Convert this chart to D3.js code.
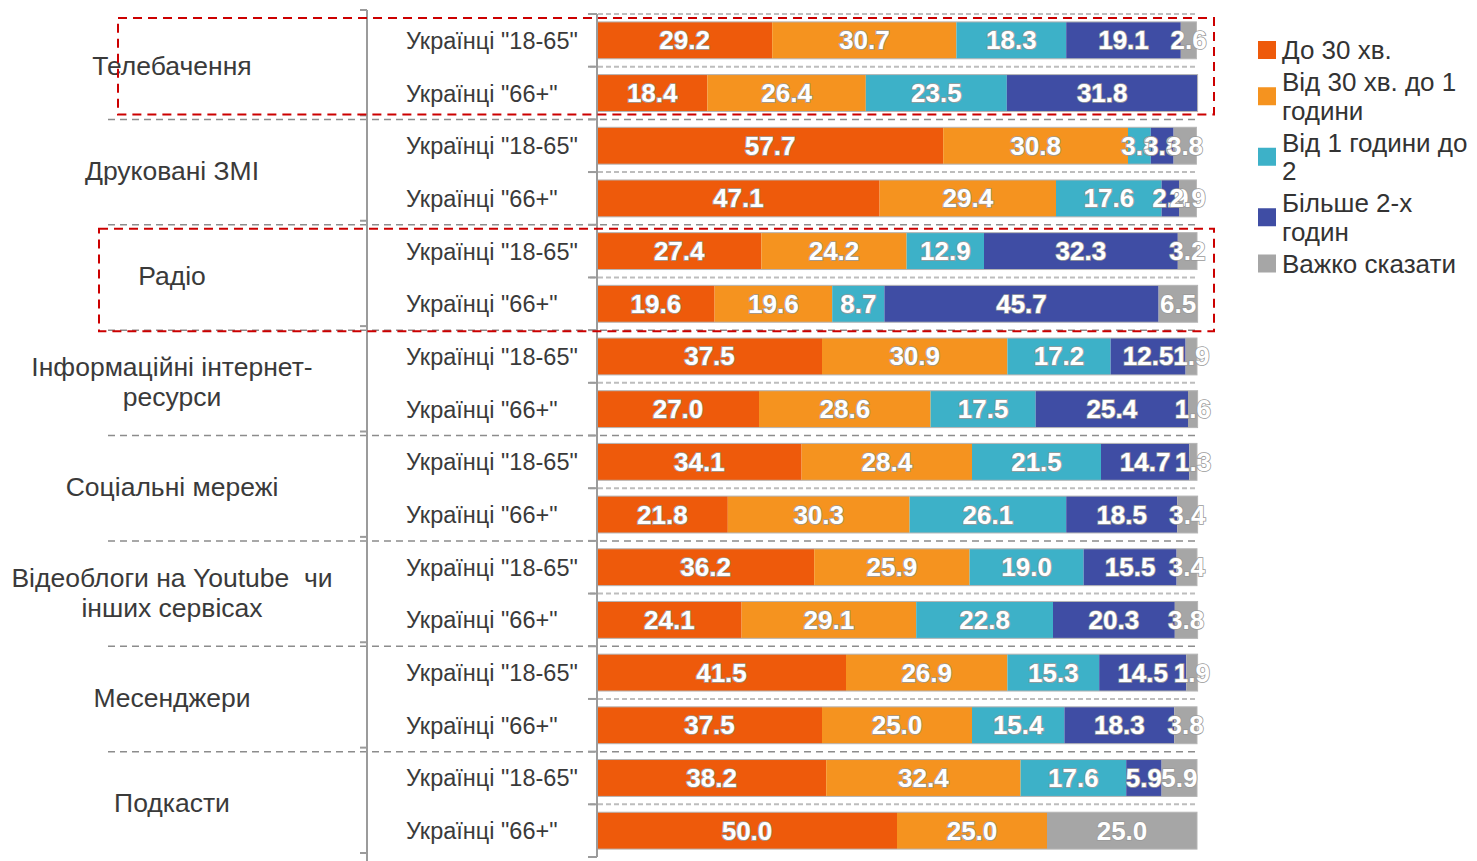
<!DOCTYPE html>
<html><head><meta charset="utf-8">
<script src="https://cdn.jsdelivr.net/npm/d3@7"></script>
<style>
html,body{margin:0;padding:0;background:#fff;}
svg{display:block;}
</style>
</head><body>
<svg id="chart" width="1477" height="861"></svg>
<script>
const categories = ["Телебачення", "Друковані ЗМІ", "Радіо", "Інформаційні інтернет-\nресурси", "Соціальні мережі", "Відеоблоги на Youtube\u00a0\u00a0чи\nінших сервісах", "Месенджери", "Подкасти"];
const groups = ["Українці \"18-65\"", "Українці \"66+\""];
const seriesNames = ["До 30 хв.", "Від 30 хв. до 1\nгодини", "Від 1 години до\n2", "Більше 2-х\nгодин", "Важко сказати"];
const seriesColors = ["#EE5A0B", "#F5931F", "#3DB1C8", "#3F4DA4", "#A6A6A6"];

const upTo30 = [29.2, 18.4, 57.7, 47.1, 27.4, 19.6, 37.5, 27.0, 34.1, 21.8, 36.2, 24.1, 41.5, 37.5, 38.2, 50.0];
const from30to60 = [30.7, 26.4, 30.8, 29.4, 24.2, 19.6, 30.9, 28.6, 28.4, 30.3, 25.9, 29.1, 26.9, 25.0, 32.4, 25.0];
const from1to2h = [18.3, 23.5, 3.8, 17.6, 12.9, 8.7, 17.2, 17.5, 21.5, 26.1, 19.0, 22.8, 15.3, 15.4, 17.6, 0];
const over2h = [19.1, 31.8, 3.8, 2.9, 32.3, 45.7, 12.5, 25.4, 14.7, 18.5, 15.5, 20.3, 14.5, 18.3, 5.9, 0];
const hardToSay = [2.6, 0, 3.8, 2.9, 3.2, 6.5, 1.9, 1.6, 1.3, 3.4, 3.4, 3.8, 1.9, 3.8, 5.9, 25.0];
const highlighted = [0, 2]; // category indices framed by red dashed boxes

const series = [upTo30, from30to60, from1to2h, over2h, hardToSay];
const keys = ["s0","s1","s2","s3","s4"];
const rows = [];
categories.forEach((c, ci) => groups.forEach((g, gi) => {
  const i = ci * 2 + gi;
  const r = {id: i, cat: ci, group: g};
  keys.forEach((k, si) => r[k] = series[si][i]);
  rows.push(r);
}));

const svg = d3.select("#chart");
const x = d3.scaleLinear().domain([0, 100]).range([597, 1197]);
const y = d3.scaleBand().domain(rows.map(r => r.id)).range([14, 857]).paddingInner(0.3).paddingOuter(0.15);
const step = y.step();
const top0 = 14;

const stack = d3.stack().keys(keys)(rows);

// row separators
const gridG = svg.append("g");
d3.range(1, rows.length).forEach(k => {
  if (k % 2 === 1) {
    gridG.append("line").attr("x1", 590).attr("x2", 1197)
      .attr("y1", top0 + k * step).attr("y2", top0 + k * step)
      .attr("stroke", "#bdbdbd").attr("stroke-width", 2).attr("stroke-dasharray", "5,3");
  }
});
gridG.append("line").attr("x1", 590).attr("x2", 1197).attr("y1", top0).attr("y2", top0)
  .attr("stroke", "#bdbdbd").attr("stroke-width", 2).attr("stroke-dasharray", "5,3");
// group separators
d3.range(1, categories.length).forEach(k => {
  const yy = top0 + 2 * k * step;
  gridG.append("line").attr("x1", 108).attr("x2", 1197).attr("y1", yy).attr("y2", yy)
    .attr("stroke", "#8c8c8c").attr("stroke-width", 1.5).attr("stroke-dasharray", "7,5");
});

// bars
const barG = svg.append("g");
stack.forEach((layer, si) => {
  barG.append("g").attr("fill", seriesColors[si])
    .selectAll("rect").data(layer.filter(d => d[1] - d[0] > 0)).join("rect")
    .attr("x", d => x(d[0])).attr("width", d => x(d[1]) - x(d[0]))
    .attr("y", d => y(d.data.id)).attr("height", y.bandwidth());
});
barG.selectAll("rect.outline").data(rows).join("rect").attr("class", "outline")
  .attr("x", x(0)).attr("width", d => x(d3.sum(keys, k => d[k])) - x(0))
  .attr("y", d => y(d.id)).attr("height", y.bandwidth())
  .attr("fill", "none").attr("stroke", "#b5b5b5").attr("stroke-width", 1);

// value labels
const labG = svg.append("g")
  .attr("font-family", "'Liberation Sans Narrow','Arial Narrow','Liberation Sans',Arial,sans-serif")
  .attr("font-weight", "bold").attr("font-size", 26).attr("text-anchor", "middle");
stack.forEach((layer, si) => {
  labG.selectAll(null).data(layer.filter(d => d[1] - d[0] > 0)).join("text")
    .attr("x", d => x((d[0] + d[1]) / 2))
    .attr("y", d => y(d.data.id) + y.bandwidth() / 2 + 9)
    .attr("fill", "#fff").attr("stroke", "#9a9a9a").attr("stroke-width", 1.6)
    .attr("paint-order", "stroke")
    .text(d => d3.format(".1f")(d[1] - d[0]));
});

// y axis (rows)
const axisG = svg.append("g").attr("transform", `translate(${x(0)},0)`);
axisG.append("line").attr("x1", 0).attr("x2", 0).attr("y1", top0).attr("y2", 857)
  .attr("stroke", "#9b9b9b").attr("stroke-width", 2);
d3.range(0, rows.length + 1).forEach(k => {
  axisG.append("line").attr("x1", -9).attr("x2", 0).attr("y1", top0 + k * step).attr("y2", top0 + k * step)
    .attr("stroke", "#9b9b9b").attr("stroke-width", 2);
});
const yAxis = d3.axisLeft(y).tickSize(0).tickPadding(0).tickFormat(i => rows[i].group);
axisG.call(yAxis);
axisG.select(".domain").remove();
axisG.selectAll(".tick text").attr("font-family", "'Liberation Sans',Arial,sans-serif")
  .attr("font-size", 23.5).attr("fill", "#3a3a3a")
  .attr("text-anchor", "start").attr("x", 406 - x(0)).attr("dy", "0.36em");

// outer category axis
const catG = svg.append("g");
catG.append("line").attr("x1", 367).attr("x2", 367).attr("y1", 10).attr("y2", 861)
  .attr("stroke", "#9b9b9b").attr("stroke-width", 2);
d3.range(0, categories.length + 1).forEach(k => {
  const yy = top0 + 2 * k * step;
  catG.append("line").attr("x1", 360).attr("x2", 367).attr("y1", yy - 4).attr("y2", yy - 4)
    .attr("stroke", "#9b9b9b").attr("stroke-width", 2);
});
categories.forEach((c, ci) => {
  const lines = c.split("\n");
  const cy = top0 + (2 * ci + 1) * step - 1;
  const t = catG.append("text").attr("x", 172).attr("text-anchor", "middle")
    .attr("font-family", "'Liberation Sans',Arial,sans-serif").attr("font-size", 26.5).attr("fill", "#3a3a3a");
  lines.forEach((l, li) => {
    t.append("tspan").attr("x", 172)
      .attr("y", cy + 9 + (li - (lines.length - 1) / 2) * 30).text(l);
  });
});

// red dashed highlight boxes
highlighted.forEach((ci, n) => {
  const y0 = top0 + 2 * ci * step;
  const y1 = top0 + 2 * (ci + 1) * step;
  const x0 = n === 0 ? 118 : 99;
  svg.append("rect").attr("x", x0).attr("y", y0 + 4).attr("width", 1214 - x0).attr("height", y1 - y0 - 9 + n * 6)
    .attr("fill", "none").attr("stroke", "#cc0000").attr("stroke-width", 2).attr("stroke-dasharray", "9,6");
});

// legend
const leg = svg.append("g").attr("font-family", "'Liberation Sans',Arial,sans-serif")
  .attr("font-size", 26).attr("fill", "#333");
let base = 59;
seriesNames.forEach((s, si) => {
  const lines = s.split("\n");
  const first = base;
  lines.forEach((l, li) => {
    leg.append("text").attr("x", 1282).attr("y", base).text(l);
    if (li < lines.length - 1) base += 28.5;
  });
  const center = (first + base) / 2 - 9;
  leg.append("rect").attr("x", 1258).attr("y", center - 9).attr("width", 18).attr("height", 18)
    .attr("fill", seriesColors[si]);
  base += 32;
});
</script>
</body></html>
